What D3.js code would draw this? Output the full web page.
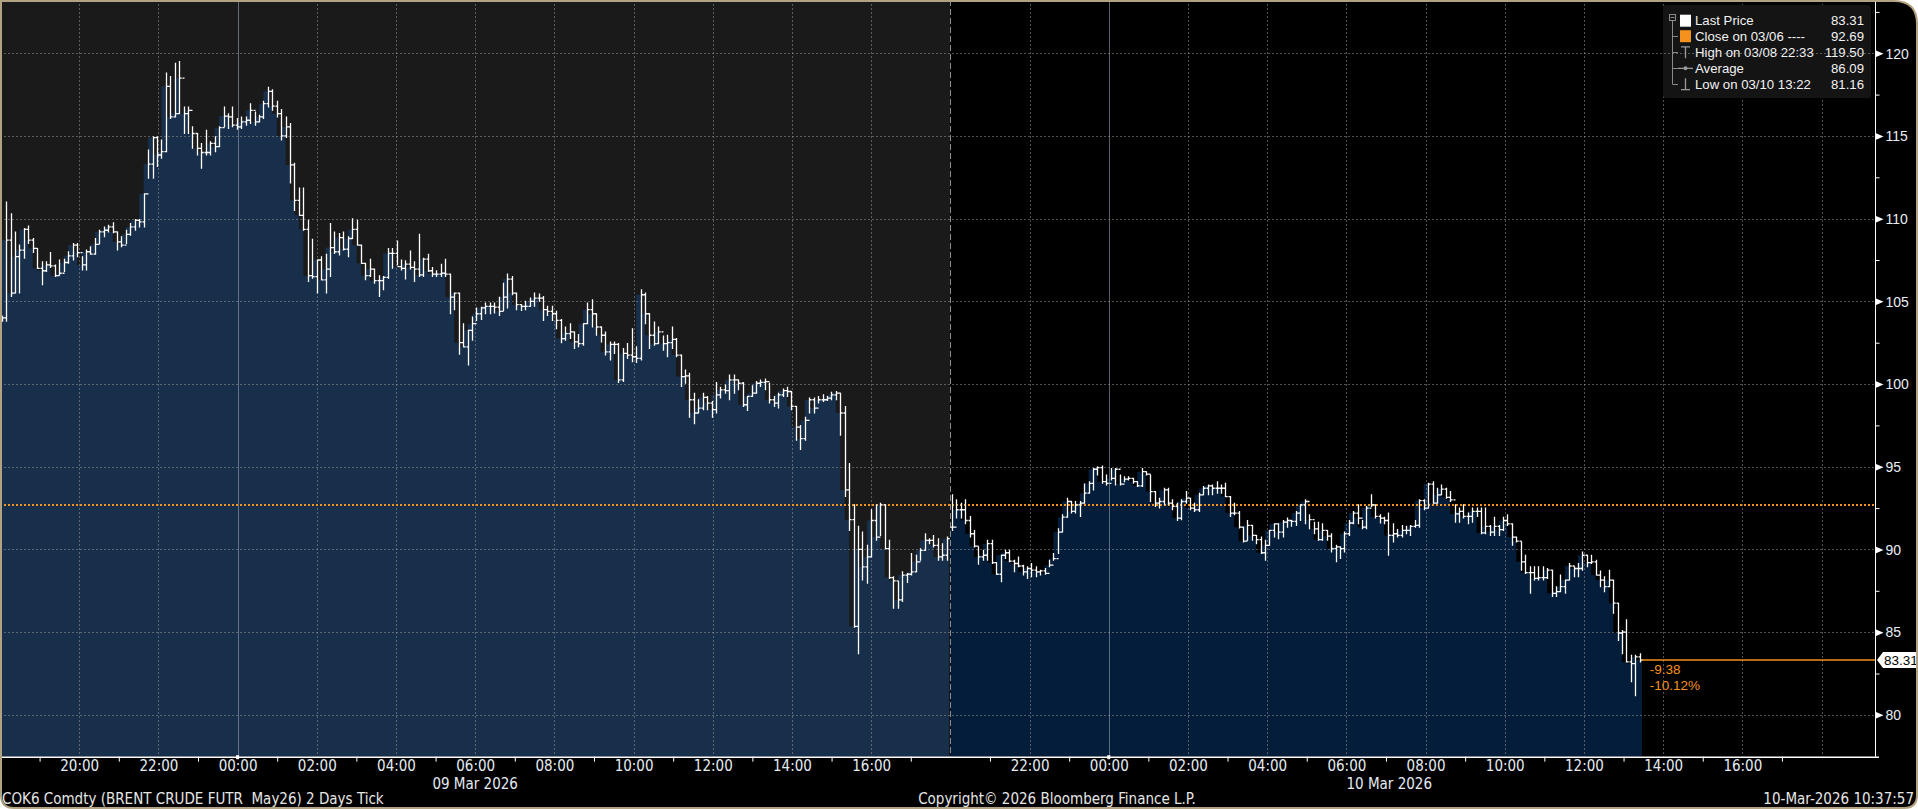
<!DOCTYPE html>
<html><head><meta charset="utf-8">
<script src="https://cdn.jsdelivr.net/npm/d3@7"></script>
<style>
html,body{margin:0;padding:0;background:#fff;overflow:hidden}
svg{display:block}
text{white-space:pre}
</style></head><body>
<svg id="chart" width="1918" height="809"></svg>
<script>
// ---------------- DATA ----------------
const leftHigh = [104.1,111.0,110.3,109.2,108.4,109.4,109.55,108.8,108.2,107.4,107.4,107.95,107.2,107.5,107.55,108.0,108.5,108.5,107.7,108.1,108.3,108.8,109.3,109.5,109.6,109.75,109.2,108.9,109.3,109.7,109.95,109.95,111.5,114.15,114.95,114.95,114.75,118.8,118.6,119.4,119.5,116.75,116.75,115.55,115.15,114.55,115.35,114.65,114.95,115.55,116.75,116.35,116.75,116.05,116.15,116.15,116.95,116.45,116.25,117.1,117.95,117.8,117.1,116.6,116.15,115.75,113.35,111.85,111.85,109.9,108.75,107.5,107.7,107.85,109.7,109.2,109.1,109.2,108.9,110.0,109.9,108.4,107.3,107.55,106.95,106.55,106.5,108.2,108.2,108.65,107.5,107.45,108.05,107.4,109.05,107.6,107.85,107.05,106.85,107.25,107.55,106.65,105.5,105.5,103.65,103.25,104.05,104.6,104.65,104.9,104.9,104.9,105.25,106.1,106.65,106.5,105.5,104.8,105.0,105.2,105.5,105.45,105.3,104.7,104.7,104.4,103.9,103.45,103.65,103.15,103.0,103.65,104.9,105.1,104.25,103.45,103.15,102.55,102.55,102.45,102.15,102.45,103.35,102.25,105.7,105.5,104.25,103.75,103.45,102.9,102.95,103.45,102.75,101.75,100.85,100.65,99.45,99.05,99.45,99.25,98.95,100.1,99.8,99.95,100.55,100.55,100.25,100.1,99.25,99.9,100.15,100.25,100.3,100.05,99.25,99.45,99.7,99.8,99.55,98.65,97.5,98.0,99.15,99.15,99.25,99.35,99.25,99.5,99.55,99.45,98.65,95.2,92.7,91.4,91.05,90.25,92.4,92.7,92.8,92.7,90.55,88.35,88.05,88.65,88.55,89.75,89.65,90.05,90.95,90.65,90.85,90.65,90.35,90.75];
const leftLow = [103.8,103.8,105.3,105.5,105.5,107.6,108.5,107.95,107.0,106.0,106.8,107.05,106.5,106.6,106.8,107.3,107.5,107.7,106.9,106.9,107.85,107.85,108.5,108.9,109.2,109.15,108.1,108.3,108.5,109.0,109.3,109.5,109.5,112.45,112.45,113.15,113.65,114.05,116.05,116.15,116.35,115.15,115.15,114.25,113.85,113.05,113.85,113.85,114.05,114.35,115.55,115.45,115.55,115.4,115.45,115.65,115.75,115.65,115.85,116.05,116.75,116.55,116.15,114.75,114.9,112.15,110.5,110.2,109.3,106.2,106.4,105.5,106.3,105.5,106.5,107.9,107.8,108.1,107.7,108.8,108.4,107.3,106.3,106.5,106.1,105.3,105.7,106.4,107.0,107.2,106.9,106.35,106.95,106.2,106.5,106.5,106.8,106.5,106.5,106.5,106.5,104.25,104.5,101.8,102.25,101.15,102.65,103.85,103.9,104.25,104.25,104.3,104.15,104.45,104.6,105.4,104.5,104.45,104.5,104.7,104.7,105.0,103.85,104.15,103.85,103.35,102.5,102.65,102.75,102.15,102.25,102.35,103.65,103.45,102.95,102.55,101.75,101.45,101.85,100.1,100.15,101.55,101.35,101.3,101.45,103.65,102.15,102.35,102.45,102.05,101.65,102.15,101.65,99.85,100.05,98.0,97.6,98.25,98.45,98.45,98.0,98.25,99.15,99.45,99.05,99.45,99.65,98.65,98.4,99.25,99.45,99.85,99.65,98.85,98.65,98.55,99.25,99.25,98.45,96.6,96.05,96.6,98.25,98.25,98.85,98.95,99.0,99.05,99.05,96.9,93.2,91.15,85.3,83.7,88.15,87.95,89.55,90.55,90.85,90.05,88.25,86.45,86.45,86.85,88.0,88.45,88.65,89.35,89.95,90.35,90.15,89.35,89.35,89.35];
const leftClose = [104.0,108.7,105.5,107.7,108.1,109.35,108.7,108.2,107.0,106.85,107.2,107.15,106.55,106.7,107.35,107.75,108.4,107.95,107.2,108.0,107.85,108.45,109.2,109.3,109.5,109.2,108.6,108.4,109.05,109.5,109.9,109.8,111.5,113.3,114.9,113.85,114.05,118.0,116.15,116.35,118.5,116.35,116.55,115.15,114.25,114.0,114.0,114.55,114.35,115.5,116.2,116.15,115.65,115.55,115.85,115.95,116.55,115.85,116.15,116.95,117.7,116.8,116.35,115.0,115.55,113.25,111.1,110.2,109.35,106.55,106.5,107.5,106.3,106.95,108.25,108.0,108.85,108.15,108.8,109.35,108.4,107.3,106.55,106.95,106.25,106.25,106.45,107.9,107.9,107.1,107.0,107.25,107.05,106.95,106.6,107.55,106.85,106.65,106.65,106.7,106.65,105.25,105.5,102.5,102.25,103.25,103.65,104.25,104.6,104.7,104.7,104.65,104.4,105.25,106.35,105.5,104.8,104.7,104.7,105.0,105.2,105.2,104.5,104.4,104.25,103.85,102.75,103.05,103.15,102.55,102.45,103.65,104.5,104.25,103.45,102.95,101.95,102.4,102.4,100.25,101.85,101.75,101.65,101.55,105.4,104.25,102.95,102.45,103.15,102.45,102.5,102.7,101.75,100.45,100.5,99.05,98.25,98.55,99.2,98.85,98.45,99.35,99.65,99.6,100.25,100.25,100.05,98.75,99.25,99.45,100.05,100.1,100.15,99.05,98.85,99.35,99.6,99.55,98.65,97.4,96.7,97.8,99.05,98.55,99.05,99.05,99.15,99.35,99.45,98.25,93.6,91.8,85.35,90.0,88.95,89.55,91.75,90.75,92.7,90.05,88.3,88.1,86.95,88.45,88.5,88.65,89.25,89.95,90.55,90.55,90.25,89.55,89.65,90.65];

const rightHigh = [93.3,93.0,92.8,93.0,92.0,91.15,90.15,89.95,90.55,90.55,89.2,89.65,89.95,89.95,89.35,89.55,89.05,88.95,89.15,88.95,88.75,88.85,89.35,89.75,91.25,92.1,93.1,92.9,92.9,92.9,93.95,94.1,94.9,95.0,95.05,94.5,94.9,94.9,94.5,94.4,94.4,94.3,94.1,94.9,94.7,94.5,93.5,93.1,93.7,93.7,93.0,92.8,93.0,93.5,93.1,92.8,93.4,93.8,93.9,93.9,94.1,93.9,94.0,93.2,92.8,92.3,91.35,91.75,91.45,90.85,90.75,90.55,91.15,91.55,91.55,91.75,91.9,91.75,92.3,92.7,93.0,92.1,91.65,91.65,91.55,91.15,90.95,90.25,90.15,91.05,91.75,92.3,92.7,91.75,92.6,93.3,92.7,92.1,91.95,92.2,91.55,91.2,91.45,91.4,91.45,91.75,93.0,93.0,94.0,94.1,93.7,93.9,93.7,93.5,92.7,92.5,92.7,92.2,92.5,92.5,92.5,92.5,91.45,91.95,91.45,91.95,92.1,91.55,90.75,90.45,89.65,88.95,88.95,88.95,88.95,88.85,88.75,87.75,88.45,88.15,89.15,88.95,89.15,89.85,89.65,89.65,89.35,88.7,88.35,88.75,88.15,86.75,85.1,85.75,83.6,83.6,83.7];
const rightLow = [91.15,91.9,91.9,91.55,90.75,90.15,89.1,89.35,89.35,89.15,88.5,88.05,89.45,89.25,88.65,88.95,88.45,88.25,88.35,88.35,88.45,88.5,88.95,89.35,89.75,91.05,91.95,92.2,92.2,92.0,92.8,93.4,93.6,94.5,94.0,93.9,94.2,93.9,93.9,94.1,94.2,94.0,93.8,93.8,94.5,92.9,92.6,92.5,92.7,92.7,92.4,91.75,91.8,92.8,92.4,92.3,92.3,93.3,93.3,93.3,93.4,93.4,93.2,92.0,92.1,91.3,90.45,90.55,90.55,90.35,89.75,89.35,90.25,90.75,90.65,90.75,91.35,91.4,91.45,91.75,91.55,91.25,90.95,90.55,90.55,90.55,89.85,89.25,89.45,89.85,90.85,91.55,91.55,91.25,91.25,92.6,91.9,91.6,91.55,89.65,90.45,90.75,90.75,90.95,90.85,91.35,91.35,92.4,92.5,92.8,92.8,93.3,93.1,92.9,91.65,91.65,91.9,91.55,91.65,92.0,90.95,90.95,90.85,90.85,90.85,91.15,91.45,90.25,90.45,88.75,88.55,87.35,88.15,88.15,88.15,88.25,87.15,87.15,87.45,87.35,88.15,88.35,88.35,88.75,88.95,89.15,88.45,87.75,87.45,87.75,86.15,84.5,83.7,83.2,82.0,81.16,83.2];
const rightClose = [91.35,92.4,92.4,91.75,90.95,90.2,89.55,89.65,90.35,89.2,88.5,89.65,89.8,89.3,89.15,89.0,88.65,88.85,88.75,88.65,88.7,88.55,89.05,89.45,91.05,91.95,92.9,92.3,92.7,92.8,93.4,94.0,94.85,94.95,94.1,94.0,94.3,94.85,93.95,94.25,94.3,94.1,93.85,94.7,94.55,93.5,92.8,92.9,93.6,92.8,92.6,91.9,92.9,93.1,92.5,92.4,93.3,93.7,93.85,93.7,93.7,93.7,93.2,92.2,92.2,91.35,90.5,91.45,90.85,90.6,89.8,90.25,91.15,91.55,91.05,91.65,91.75,91.7,92.2,92.7,92.9,91.8,91.25,90.6,91.15,90.8,90.05,90.15,90.05,90.95,91.6,92.2,91.9,91.35,92.5,92.7,92.0,91.9,91.75,90.85,90.95,90.85,91.15,91.15,91.4,91.45,92.95,92.5,93.95,92.8,93.3,93.65,93.15,93.0,92.15,92.3,92.0,92.0,92.3,92.3,91.0,91.4,91.05,91.4,91.2,91.75,91.55,90.75,90.5,89.25,88.6,88.6,88.25,88.3,88.3,88.75,87.35,87.45,87.75,88.15,89.0,88.85,88.85,89.65,89.2,89.25,88.45,88.15,87.75,88.15,86.75,84.95,85.0,83.2,83.1,83.5,83.31];

// session bar windows (bars evenly spaced inside each session)
const sessionFirstBar = ["2026-03-08T18:02:30", "2026-03-09T20:02:30"];
const sessionLastBar  = ["2026-03-09T17:54:30", "2026-03-10T13:24:30"];
const axisStart = "2026-03-08T18:00:00";
const gapStart  = "2026-03-09T18:00:00";
const gapEnd    = "2026-03-09T20:00:00";
const axisEnd   = "2026-03-10T19:21:00";

const yMajorTicks = [80, 85, 90, 95, 100, 105, 110, 115, 120];
const yMinorTicks = [82.5, 87.5, 92.5, 97.5, 102.5, 107.5, 112.5, 117.5, 122.5];
const yDomain = [77.47, 123.22];

const xLabelTimes = ["2026-03-08T20:00","2026-03-08T22:00","2026-03-09T00:00","2026-03-09T02:00","2026-03-09T04:00","2026-03-09T06:00","2026-03-09T08:00","2026-03-09T10:00","2026-03-09T12:00","2026-03-09T14:00","2026-03-09T16:00",
  "2026-03-09T22:00","2026-03-10T00:00","2026-03-10T02:00","2026-03-10T04:00","2026-03-10T06:00","2026-03-10T08:00","2026-03-10T10:00","2026-03-10T12:00","2026-03-10T14:00","2026-03-10T16:00"];
const xExtraGridTimes = ["2026-03-10T18:00"];
const xMidnights = ["2026-03-09T00:00","2026-03-10T00:00"];
const xTickTimes = ["2026-03-08T19:00","2026-03-08T21:00","2026-03-08T23:00","2026-03-09T01:00","2026-03-09T03:00","2026-03-09T05:00","2026-03-09T07:00","2026-03-09T09:00","2026-03-09T11:00","2026-03-09T13:00","2026-03-09T15:00","2026-03-09T17:00",
  "2026-03-09T21:00","2026-03-09T23:00","2026-03-10T01:00","2026-03-10T03:00","2026-03-10T05:00","2026-03-10T07:00","2026-03-10T09:00","2026-03-10T11:00","2026-03-10T13:00","2026-03-10T15:00","2026-03-10T17:00"];
const dateLabels = [{t:"2026-03-09T06:00", s:"09 Mar 2026"}, {t:"2026-03-10T07:05", s:"10 Mar 2026"}];

const lastPrice = 83.31, prevClose = 92.69, netChange = "-9.38", pctChange = "-10.12%";
const legendRows = [
  {label:"Last Price", value:"83.31", icon:"white"},
  {label:"Close on 03/06 ----", value:"92.69", icon:"orange"},
  {label:"High on 03/08 22:33", value:"119.50", icon:"high"},
  {label:"Average", value:"86.09", icon:"avg"},
  {label:"Low on 03/10 13:22", value:"81.16", icon:"low"}
];
const footLeft = "COK6 Comdty (BRENT CRUDE FUTR  May26) 2 Days Tick";
const footMid = "Copyright\u00A9 2026 Bloomberg Finance L.P.";
const footRight = "10-Mar-2026 10:37:57";

// ---------------- LAYOUT / STYLE ----------------
const W = 1918, H = 809;
const plotLeft = 0, plotRight = 1875, plotTop = 0, plotBottom = 756.7;
const ORANGE = "#f5921e";
const narrow = "'Liberation Sans Narrow','Arial Narrow','DejaVu Sans Condensed',sans-serif";
const sans = "'Liberation Sans',Arial,sans-serif";

const T = s => new Date(s + (s.length === 16 ? ":00Z" : "Z"));
const t0 = T(axisStart).getTime(), gS = T(gapStart).getTime(), gE = T(gapEnd).getTime();
const gapless = d => { let ms = d.getTime() - t0; if (d.getTime() >= gE) ms -= (gE - gS); return ms / 3.6e6; };

const x = d3.scaleLinear().domain([0, gapless(T(axisEnd))]).range([plotLeft, plotRight]);
const xt = s => x(gapless(T(s)));
const y = d3.scaleLinear().domain(yDomain).range([plotBottom, plotTop]);

function makeBars(high, low, close, si) {
  const a = T(sessionFirstBar[si]).getTime(), b = T(sessionLastBar[si]).getTime();
  const n = close.length;
  return close.map((c, i) => ({
    t: new Date(a + (b - a) * i / (n - 1)),
    h: high[i], l: low[i], c: c, o: i > 0 ? close[i - 1] : c
  }));
}
const leftBars = makeBars(leftHigh, leftLow, leftClose, 0);
const rightBars = makeBars(rightHigh, rightLow, rightClose, 1);

const svg = d3.select("#chart");
const defs = svg.append("defs");
// frame shape (rounded corners except top-left)
const R = 24, RB = 14;
const framePath = `M1,1 H${W-R} Q${W-1},1 ${W-1},${R} V${H-RB} Q${W-1},${H-1} ${W-RB},${H-1} H${RB} Q1,${H-1} 1,${H-RB} Z`;
defs.append("clipPath").attr("id", "frame").append("path").attr("d", framePath);
defs.append("clipPath").attr("id", "plot").append("rect")
  .attr("x", plotLeft).attr("y", plotTop).attr("width", plotRight - plotLeft).attr("height", plotBottom - plotTop);

const root = svg.append("g").attr("clip-path", "url(#frame)");
root.append("rect").attr("width", W).attr("height", H).attr("fill", "#000");

const plot = root.append("g").attr("clip-path", "url(#plot)");
// session shading
const xDiv = x(gapless(T(gapStart)));
plot.append("rect").attr("x", plotLeft).attr("y", plotTop).attr("width", xDiv - plotLeft)
  .attr("height", plotBottom - plotTop).attr("fill", "#1a1a1a");

// areas
function areaData(bars, startX, endX) {
  const pts = bars.map(b => ({px: x(gapless(b.t)), c: b.c}));
  return [{px: startX, c: pts[0].c}].concat(pts).concat([{px: endX, c: pts[pts.length - 1].c}]);
}
const area = d3.area().x(d => d.px).y0(plotBottom).y1(d => y(d.c)).curve(d3.curveStepBefore);
const lastLeftX = x(gapless(leftBars[leftBars.length - 1].t));
const lastRightX = x(gapless(rightBars[rightBars.length - 1].t));
plot.append("path").datum(areaData(leftBars, plotLeft, lastLeftX + 2.2)).attr("d", area).attr("fill", "#182f4c");
plot.append("path").datum(areaData(rightBars, xDiv, lastRightX + 2.2)).attr("d", area).attr("fill", "#041d3a");

// vertical grid
const vgrid = plot.append("g");
vgrid.selectAll("line.vg").data(xLabelTimes.concat(xExtraGridTimes).filter(s => !xMidnights.includes(s)))
  .join("line").attr("x1", d => Math.round(xt(d)) + 0.5).attr("x2", d => Math.round(xt(d)) + 0.5)
  .attr("y1", plotTop).attr("y2", plotBottom)
  .attr("stroke", "rgba(150,150,150,0.55)").attr("stroke-dasharray", "2,2");
vgrid.selectAll("line.mid").data(xMidnights).join("line")
  .attr("x1", d => Math.round(xt(d)) + 0.5).attr("x2", d => Math.round(xt(d)) + 0.5)
  .attr("y1", plotTop).attr("y2", plotBottom).attr("stroke", "rgba(150,160,175,0.6)");
vgrid.append("line").attr("x1", Math.round(xDiv) + 0.5).attr("x2", Math.round(xDiv) + 0.5)
  .attr("y1", plotTop).attr("y2", plotBottom).attr("stroke", "#8a8a8a").attr("stroke-dasharray", "6,3");

// legend box (covers vertical grid, not horizontal grid)
const lg = root.append("g");
lg.append("rect").attr("x", 1663).attr("y", 5).attr("width", 208).attr("height", 93).attr("rx", 3)
  .attr("fill", "#141414");

// horizontal grid
root.append("g").selectAll("line").data(yMajorTicks).join("line")
  .attr("x1", plotLeft).attr("x2", plotRight)
  .attr("y1", d => Math.round(y(d)) + 0.5).attr("y2", d => Math.round(y(d)) + 0.5)
  .attr("stroke", "rgba(150,150,150,0.55)").attr("stroke-dasharray", "2,2");

// previous close dotted line
root.append("line").attr("x1", plotLeft).attr("x2", plotRight)
  .attr("y1", y(prevClose)).attr("y2", y(prevClose))
  .attr("stroke", ORANGE).attr("stroke-width", 2).attr("stroke-dasharray", "2,2");

// bars
const barG = root.append("g").attr("clip-path", "url(#plot)");
function drawBars(bars) {
  barG.append("g").selectAll("path").data(bars).join("path")
    .attr("d", b => {
      const px = Math.round(x(gapless(b.t))) + 0.5;
      return `M${px - 2},${y(b.o)}H${px}M${px},${y(b.h) - 0.5}V${y(b.l) + 0.5}M${px},${y(b.c)}H${px + 2.2}`;
    })
    .attr("fill", "none").attr("stroke", "#fff").attr("stroke-width", 1.3);
}
drawBars(leftBars);
drawBars(rightBars);

// last price line & change labels
root.append("line").attr("x1", lastRightX + 2).attr("x2", plotRight)
  .attr("y1", y(lastPrice)).attr("y2", y(lastPrice)).attr("stroke", ORANGE).attr("stroke-width", 1.5);
root.append("text").attr("x", lastRightX + 10).attr("y", y(lastPrice) + 13.5).text(netChange)
  .attr("fill", ORANGE).attr("font-family", sans).attr("font-size", 13.5);
root.append("text").attr("x", lastRightX + 10).attr("y", y(lastPrice) + 29.5).text(pctChange)
  .attr("fill", ORANGE).attr("font-family", sans).attr("font-size", 13.5);

// y axis
const yAxisG = root.append("g").attr("transform", `translate(${plotRight + 0.5},0)`);
yAxisG.call(d3.axisRight(y).tickValues(yMinorTicks).tickSize(4).tickFormat(""))
  .call(g => g.select(".domain").remove());
yAxisG.selectAll(".tick line").attr("stroke", "#fff");
yAxisG.append("line").attr("x1", 0).attr("x2", 0).attr("y1", plotTop).attr("y2", plotBottom).attr("stroke", "#fff");
const yMaj = root.append("g").attr("transform", `translate(${plotRight + 0.5},0)`)
  .call(d3.axisRight(y).tickValues(yMajorTicks).tickSize(0).tickPadding(10).tickFormat(d3.format("d")));
yMaj.select(".domain").remove();
yMaj.selectAll(".tick text").attr("fill", "#e8eef5").attr("font-family", sans).attr("font-size", 14).attr("dy", "0.34em");
yMaj.selectAll(".tick").append("path").attr("d", "M0,-3.5L8,0L0,3.5Z").attr("fill", "#fff");

// last price tag on axis
const ly = y(lastPrice);
root.append("path").attr("d", `M${plotRight + 2},${ly} L${plotRight + 8},${ly - 8} H${W} V${ly + 8} H${plotRight + 8} Z`)
  .attr("fill", "#fff");
root.append("text").attr("x", plotRight + 9).attr("y", ly).attr("dy", "0.35em").text(lastPrice.toFixed(2))
  .attr("fill", "#000").attr("font-family", sans).attr("font-size", 13.5);

// x axis
const xAxisG = root.append("g").attr("transform", `translate(0,${plotBottom})`);
xAxisG.call(d3.axisBottom(x).tickValues(xTickTimes.map(s => gapless(T(s)))).tickSize(5).tickFormat(""))
  .call(g => g.select(".domain").remove());
xAxisG.selectAll(".tick line").attr("stroke", "#fff");
xAxisG.append("line").attr("x1", plotLeft).attr("x2", plotRight + 4).attr("y1", 0.5).attr("y2", 0.5).attr("stroke", "#fff").attr("stroke-width", 1.5);
xAxisG.selectAll("rect.mid").data(xMidnights).join("rect")
  .attr("x", d => xt(d) - 1.5).attr("y", -1.5).attr("width", 3).attr("height", 4).attr("fill", "#fff");
const fmt = d3.utcFormat("%H:%M");
const xLab = root.append("g").attr("transform", `translate(0,${plotBottom})`)
  .call(d3.axisBottom(x).tickValues(xLabelTimes.map(s => gapless(T(s)))).tickSize(0).tickPadding(4)
    .tickFormat((v, i) => fmt(T(xLabelTimes[i]))));
xLab.select(".domain").remove();
xLab.selectAll(".tick text").attr("fill", "#e4ebf3").attr("font-family", narrow).attr("font-size", 15).attr("dy", "0.71em");

root.append("g").selectAll("text").data(dateLabels).join("text")
  .attr("x", d => xt(d.t)).attr("y", plotBottom + 32).attr("text-anchor", "middle").text(d => d.s)
  .attr("fill", "#e4ebf3").attr("font-family", narrow).attr("font-size", 15);

// footer
const foot = root.append("g").attr("font-family", narrow).attr("font-size", 15).attr("fill", "#e6e6e6");
foot.append("text").attr("x", 2).attr("y", 804).text(footLeft);
foot.append("text").attr("x", 1057).attr("y", 804).attr("text-anchor", "middle").text(footMid);
foot.append("text").attr("x", 1914).attr("y", 804).attr("text-anchor", "end").text(footRight);

// legend contents
const rowY = [20.7, 36.2, 52.3, 68.3, 84.2];
const lgc = lg.append("g");
const treeX = 1672.5;
lgc.append("rect").attr("x", 1669.5).attr("y", 14.5).attr("width", 6).attr("height", 6).attr("fill", "none").attr("stroke", "#8a8a8a");
lgc.append("line").attr("x1", 1670.5).attr("x2", 1674.5).attr("y1", 17.5).attr("y2", 17.5).attr("stroke", "#8a8a8a");
lgc.append("line").attr("x1", treeX).attr("x2", treeX).attr("y1", 20.5).attr("y2", rowY[4]).attr("stroke", "#8a8a8a");
lgc.selectAll("line.br").data(rowY.slice(1)).join("line")
  .attr("x1", treeX).attr("x2", 1678).attr("y1", d => Math.round(d) + 0.5).attr("y2", d => Math.round(d) + 0.5).attr("stroke", "#8a8a8a");
legendRows.forEach((r, i) => {
  const cy = rowY[i];
  if (r.icon === "white" || r.icon === "orange") {
    lgc.append("rect").attr("x", 1680).attr("y", cy - 6).attr("width", 11).attr("height", 12)
      .attr("fill", r.icon === "white" ? "#fff" : ORANGE);
  } else if (r.icon === "high") {
    lgc.append("path").attr("d", `M1681,${cy - 5.5}H1690M1685.5,${cy - 5.5}V${cy + 6}`).attr("stroke", "#9a9a9a").attr("stroke-width", 1.3).attr("fill", "none");
  } else if (r.icon === "low") {
    lgc.append("path").attr("d", `M1681,${cy + 5.5}H1690M1685.5,${cy + 5.5}V${cy - 6}`).attr("stroke", "#9a9a9a").attr("stroke-width", 1.3).attr("fill", "none");
  } else {
    lgc.append("path").attr("d", `M1678,${cy}H1693`).attr("stroke", "#9a9a9a").attr("stroke-width", 1.2);
    lgc.append("circle").attr("cx", 1685.5).attr("cy", cy).attr("r", 2).attr("fill", "#9a9a9a");
  }
  lgc.append("text").attr("x", 1695).attr("y", cy).attr("dy", "0.36em").text(r.label)
    .attr("fill", "#f2f2f2").attr("font-family", sans).attr("font-size", 13.2);
  lgc.append("text").attr("x", 1864).attr("y", cy).attr("dy", "0.36em").attr("text-anchor", "end").text(r.value)
    .attr("fill", "#f2f2f2").attr("font-family", sans).attr("font-size", 13.2);
});

// frame border
svg.append("path").attr("d", framePath).attr("fill", "none").attr("stroke", "#b3a281").attr("stroke-width", 2);
</script>
</body></html>
